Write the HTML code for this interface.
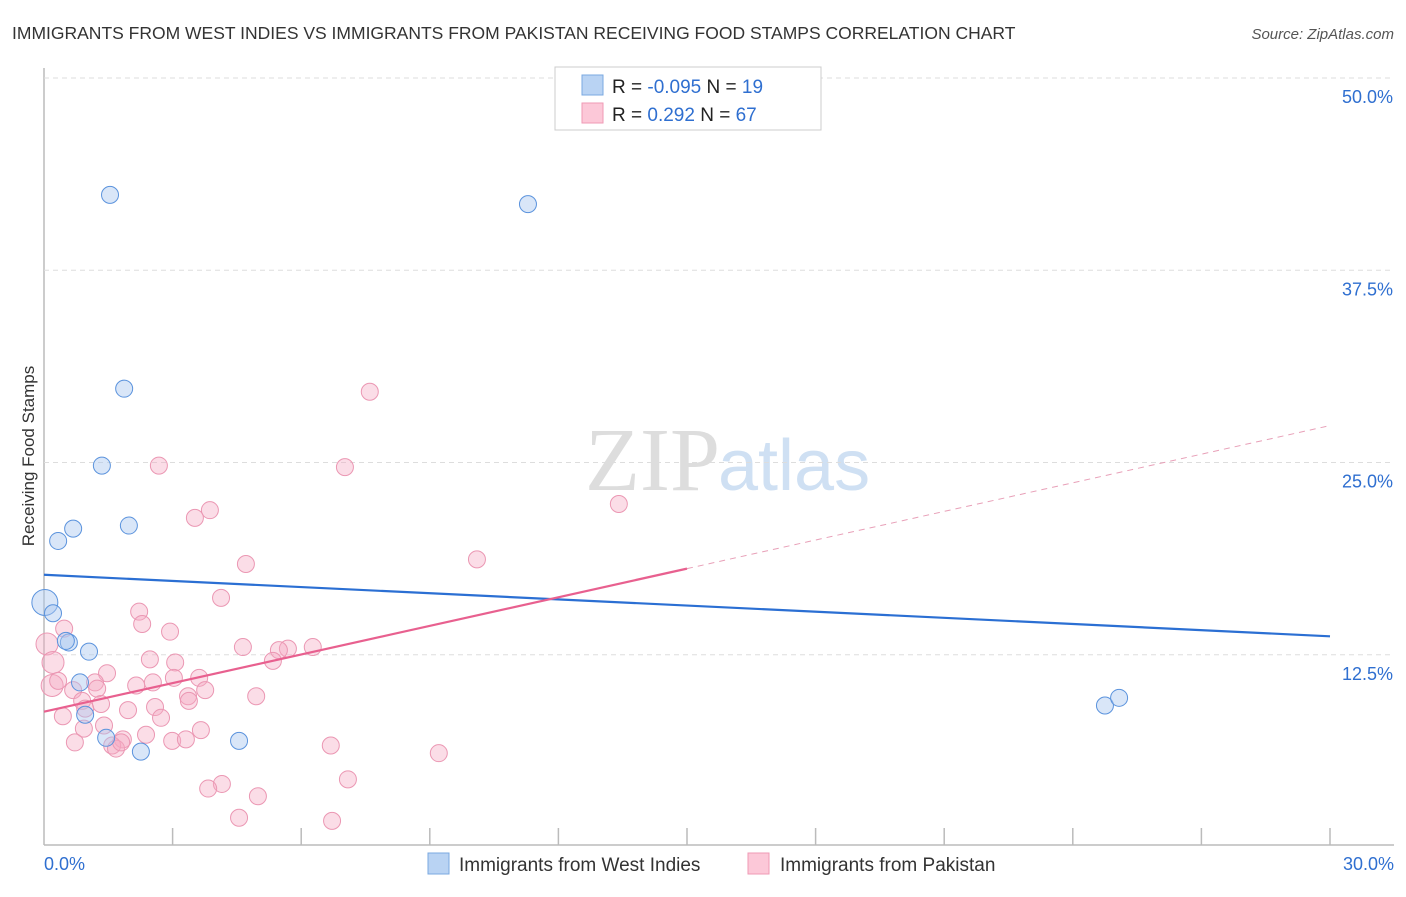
<!DOCTYPE html>
<html><head><meta charset="utf-8"><style>
body{margin:0;background:#fff;font-family:"Liberation Sans",sans-serif}
</style></head><body>
<svg id="c" width="1406" height="892" xmlns="http://www.w3.org/2000/svg">
<text x="12" y="39" font-size="17.5" fill="#333">IMMIGRANTS FROM WEST INDIES VS IMMIGRANTS FROM PAKISTAN RECEIVING FOOD STAMPS CORRELATION CHART</text>
<text x="1394" y="39" font-size="15" fill="#555" font-style="italic" text-anchor="end">Source: ZipAtlas.com</text>
<text x="720" y="490" font-size="90" fill="#ddd" font-family="Liberation Serif" text-anchor="end">ZIP</text>
<text x="718" y="490" font-size="72" fill="#cfe0f3">atlas</text>
<text transform="translate(34,456) rotate(-90)" font-size="17" fill="#333" text-anchor="middle">Receiving Food Stamps</text>
<g id="grid"></g><g id="pts"></g><g id="lines"></g>
<g>
<rect x="555" y="67" width="266" height="63" fill="#fff" stroke="#ccc"/>
<rect x="582" y="75" width="21" height="20" fill="#b9d3f3" stroke="#7aa8e0"/>
<rect x="582" y="103" width="21" height="20" fill="#fcc8d8" stroke="#ef9ab5"/>
<text x="612" y="93" font-size="19" fill="#222">R = <tspan fill="#2f6fd0">-0.095</tspan>   N = <tspan fill="#2f6fd0"> 19</tspan></text>
<text x="612" y="121" font-size="19" fill="#222">R = <tspan fill="#2f6fd0">  0.292</tspan>   N = <tspan fill="#2f6fd0">67</tspan></text>
</g>
<g>
<rect x="428" y="853" width="21" height="21" fill="#b9d3f3" stroke="#7aa8e0"/>
<text x="459" y="871" font-size="19" fill="#333">Immigrants from West Indies</text>
<rect x="748" y="853" width="21" height="21" fill="#fcc8d8" stroke="#ef9ab5"/>
<text x="780" y="871" font-size="19" fill="#333">Immigrants from Pakistan</text>
</g>
<text x="44" y="870" font-size="18" fill="#2f6fd0">0.0%</text>
<text x="1394" y="870" font-size="18" fill="#2f6fd0" text-anchor="end">30.0%</text>
</svg>
<script>
const yTicks=[12.5,25,37.5,50];
const blueX=[1.54,11.29,1.87,1.35,0.68,1.98,0.33,0.02,0.21,0.58,1.05,0.84,0.96,1.45,2.26,4.55,24.75,25.08,0.51];
const blueY=[42.4,41.8,29.8,24.8,20.7,20.9,19.9,15.9,15.2,13.3,12.7,10.7,8.6,7.1,6.2,6.9,9.2,9.7,13.4];
const pinkX=[7.6,2.68,7.02,13.41,3.87,3.52,10.1,4.71,4.13,2.22,2.29,2.94,0.47,0.07,0.21,4.64,5.69,6.27,5.48,2.47,3.06,5.34,1.47,3.62,3.03,1.19,0.19,0.33,2.15,2.54,1.24,0.68,3.76,3.36,3.38,4.95,0.89,1.33,0.96,1.96,2.59,0.44,2.73,1.40,0.93,3.66,2.38,2.99,3.31,1.84,1.59,1.68,1.80,0.72,6.69,9.21,4.15,3.83,7.09,4.99,4.55,6.72];
const pinkY=[29.6,24.8,24.7,22.3,21.9,21.4,18.7,18.4,16.2,15.3,14.5,14.0,14.2,13.2,12.0,13.0,12.9,13.0,12.8,12.2,12.0,12.1,11.3,11.0,11.0,10.7,10.5,10.8,10.5,10.7,10.3,10.2,10.2,9.8,9.5,9.8,9.5,9.3,9.0,8.9,9.1,8.5,8.4,7.9,7.7,7.6,7.3,6.9,7.0,7.0,6.6,6.4,6.8,6.8,6.6,6.1,4.1,3.8,4.4,3.3,1.9,1.7];
const trendBlue=[17.7,13.7];
const trendPink=[8.8,18.1,27.4];
const NS="http://www.w3.org/2000/svg";
const X=v=>44+v/30*1286, Y=v=>847-v/50*769;
function mk(t,a,p){const e=document.createElementNS(NS,t);for(const k in a)e.setAttribute(k,a[k]);p.appendChild(e);return e;}
const g=document.getElementById('grid');
const ax=mk('line',{x1:44,y1:68,x2:44,y2:845,stroke:'#bbb','stroke-width':1.5},g);


const bx=mk('line',{x1:44,y1:845,x2:1394,y2:845,stroke:'#bbb','stroke-width':1.5},g);


for(let i=1;i<=10;i++){const t=mk('line',{x1:X(i*3),x2:X(i*3),y1:828,y2:845,stroke:'#bbb','stroke-width':1.5},g);

}
yTicks.forEach(v=>{const l=mk('line',{x1:44,x2:1394,y1:Y(v),y2:Y(v),stroke:'#ddd','stroke-dasharray':'5,4'},g);


const t=mk('text',{x:1393,y:Y(v)+25,'font-size':18,fill:'#2f6fd0','text-anchor':'end'},g);t.textContent=v.toFixed(1)+'%';

});
const p=document.getElementById('pts');
pinkX.forEach((x,i)=>{const c=mk('circle',{cx:X(x),cy:Y(pinkY[i]),r:(x<0.3?11:8.5),fill:'rgba(246,170,195,0.4)',stroke:'#eb97b3','stroke-width':1},p);

});
blueX.forEach((x,i)=>{const c=mk('circle',{cx:X(x),cy:Y(blueY[i]),r:(x<0.05?13:8.5),fill:'rgba(170,200,240,0.45)',stroke:'#5b93dd','stroke-width':1},p);

});
const L=document.getElementById('lines');
const b=mk('line',{x1:X(0),y1:Y(trendBlue[0]),x2:X(30),y2:Y(trendBlue[1]),stroke:'#2b6fd3','stroke-width':2.2},L);


const pk=mk('line',{x1:X(0),y1:Y(trendPink[0]),x2:X(15),y2:Y(trendPink[1]),stroke:'#e8608f','stroke-width':2.2},L);


const pd=mk('line',{x1:X(15),y1:Y(trendPink[1]),x2:X(30),y2:Y(trendPink[2]),stroke:'#e8a0b8','stroke-width':1,'stroke-dasharray':'6,5'},L);


</script>
</body></html>
